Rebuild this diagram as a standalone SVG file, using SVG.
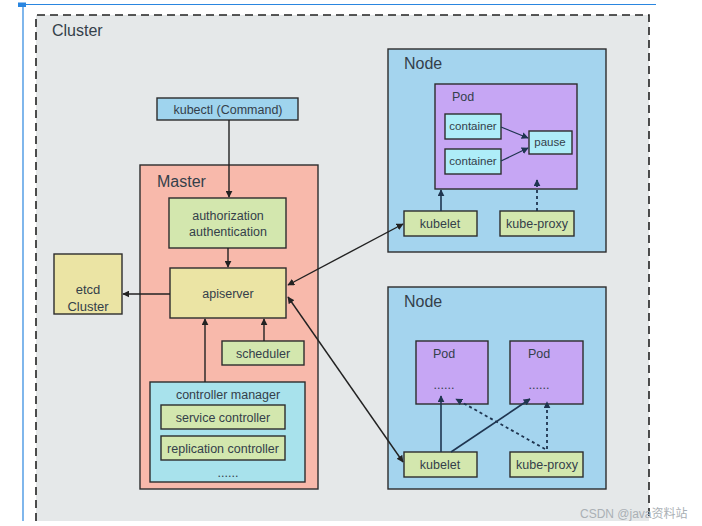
<svg xmlns="http://www.w3.org/2000/svg" width="702" height="526" viewBox="0 0 702 526">
<defs>
<style>
text{font-family:"Liberation Sans",Arial,sans-serif;fill:#34404a}
.t{font-size:12.5px;text-anchor:middle}
.s{font-size:11.5px;text-anchor:middle}
.h{font-size:16px}
.box{stroke:#2d2d2d;stroke-width:1.4}
.ln{stroke:#222;stroke-width:1.4;fill:none}
.dl{stroke:#1f3550;stroke-width:1.8;fill:none;stroke-dasharray:3 3}
</style>
<marker id="ah" viewBox="0 0 10 10" refX="9" refY="5" markerWidth="7" markerHeight="7" orient="auto-start-reverse" markerUnits="userSpaceOnUse">
<path d="M0,0 L10,5 L0,10 z" fill="#222"/>
</marker>
<marker id="ahb" viewBox="0 0 10 10" refX="9" refY="5" markerWidth="7" markerHeight="7" orient="auto-start-reverse" markerUnits="userSpaceOnUse">
<path d="M0,0 L10,5 L0,10 z" fill="#1f3550"/>
</marker>
</defs>
<rect width="702" height="526" fill="#fff"/>
<g id="frame">
<line x1="22" y1="4.5" x2="656" y2="4.5" stroke="#2a86e0" stroke-width="1.2"/>
<line x1="23" y1="4" x2="23" y2="521" stroke="#2a86e0" stroke-width="1.2"/>
<rect x="18" y="2.5" width="8" height="4.5" fill="#2a86e0"/>
</g>
<g id="cluster">
<rect x="36" y="15" width="613" height="506" fill="#e5e8e9"/>
<path d="M36,521 V15 H649 V521" fill="none" stroke="#222" stroke-width="1.6" stroke-dasharray="8 5"/>
<text class="h" x="52" y="36">Cluster</text>
</g>
<g id="kubectl">
<rect class="box" x="157" y="98" width="141" height="22" fill="#9fd4ee"/>
<text class="t" x="228" y="114">kubectl (Command)</text>
</g>
<g id="master">
<rect class="box" x="140" y="165" width="178" height="324" fill="#f8b9ab"/>
<text class="h" x="157" y="187">Master</text>
</g>
<g id="auth">
<rect class="box" x="169" y="198" width="117" height="50" fill="#d3e7ae"/>
<text class="t" x="228" y="220">authorization</text>
<text class="t" x="228" y="236">authentication</text>
</g>
<g id="apiserver">
<rect class="box" x="170" y="268" width="116" height="50" fill="#ebe4a4"/>
<text class="t" x="228" y="298">apiserver</text>
</g>
<g id="scheduler">
<rect class="box" x="222" y="341" width="82" height="24" fill="#d3e7ae"/>
<text class="t" x="263" y="358">scheduler</text>
</g>
<g id="controller-manager">
<rect class="box" x="150" y="382" width="155" height="100" fill="#a8e2ec"/>
<text class="t" x="228" y="399">controller manager</text>
<rect class="box" x="161" y="405" width="124" height="24" fill="#d3e7ae"/>
<text class="t" x="223" y="422">service controller</text>
<rect class="box" x="161" y="436" width="124" height="24" fill="#d3e7ae"/>
<text class="t" x="223" y="453">replication controller</text>
<text class="t" x="228" y="477">......</text>
</g>
<g id="etcd">
<rect class="box" x="54" y="254" width="68" height="60" fill="#ebe4a4"/>
<text class="t" x="88" y="294" style="font-size:13px">etcd</text>
<text class="t" x="88" y="311" style="font-size:13px">Cluster</text>
</g>
<g id="node1">
<rect class="box" x="388" y="49" width="218" height="203" fill="#a4d4ee"/>
<text class="h" x="404" y="69">Node</text>
<rect class="box" x="435" y="84" width="142" height="105" fill="#c6a6f4"/>
<text x="452" y="101" style="font-size:12.5px">Pod</text>
<rect class="box" x="445" y="114" width="56" height="25" fill="#aeedf8"/>
<text class="s" x="473" y="130">container</text>
<rect class="box" x="445" y="149" width="56" height="25" fill="#aeedf8"/>
<text class="s" x="473" y="165">container</text>
<rect class="box" x="529" y="131" width="43" height="23" fill="#aeedf8"/>
<text class="s" x="550" y="146">pause</text>
<rect class="box" x="404" y="211" width="73" height="25" fill="#d3e7ae"/>
<text class="t" x="440" y="228">kubelet</text>
<rect class="box" x="500" y="211" width="74" height="25" fill="#d3e7ae"/>
<text class="t" x="537" y="228">kube-proxy</text>
</g>
<g id="node2">
<rect class="box" x="388" y="287" width="218" height="202" fill="#a4d4ee"/>
<text class="h" x="404" y="307">Node</text>
<rect class="box" x="416" y="341" width="72" height="63" fill="#c6a6f4"/>
<text class="t" x="444" y="358">Pod</text>
<text class="t" x="444" y="389">......</text>
<rect class="box" x="510" y="341" width="73" height="63" fill="#c6a6f4"/>
<text class="t" x="539" y="358">Pod</text>
<text class="t" x="539" y="389">......</text>
<rect class="box" x="404" y="452" width="73" height="25" fill="#d3e7ae"/>
<text class="t" x="440" y="469">kubelet</text>
<rect class="box" x="510" y="452" width="73" height="25" fill="#d3e7ae"/>
<text class="t" x="547" y="469">kube-proxy</text>
</g>
<g id="connectors">
<line class="ln" x1="229" y1="120" x2="229" y2="197" marker-end="url(#ah)"/>
<line class="ln" x1="228" y1="248" x2="228" y2="267" marker-end="url(#ah)"/>
<line class="ln" x1="170" y1="294" x2="123" y2="294" marker-end="url(#ah)"/>
<line class="ln" x1="264" y1="341" x2="264" y2="319" marker-end="url(#ah)"/>
<line class="ln" x1="205" y1="382" x2="205" y2="319" marker-end="url(#ah)"/>
<line class="ln" x1="288" y1="285" x2="403" y2="224" marker-start="url(#ah)" marker-end="url(#ah)"/>
<line class="ln" x1="288" y1="297" x2="403" y2="462" marker-start="url(#ah)" marker-end="url(#ah)"/>
<line x1="501" y1="127" x2="528" y2="138" stroke="#1f3550" stroke-width="1.3" marker-end="url(#ahb)"/>
<line x1="501" y1="161" x2="528" y2="148" stroke="#1f3550" stroke-width="1.3" marker-end="url(#ahb)"/>
<line x1="441" y1="211" x2="441" y2="190" stroke="#1f3550" stroke-width="1.6" marker-end="url(#ahb)"/>
<line class="dl" x1="537" y1="211" x2="537" y2="180" marker-end="url(#ahb)"/>
<line x1="441" y1="452" x2="441" y2="396" stroke="#1f3550" stroke-width="1.6" marker-end="url(#ahb)"/>
<line x1="451" y1="452" x2="530" y2="399" stroke="#1f3550" stroke-width="1.6" marker-end="url(#ahb)"/>
<line class="dl" x1="545" y1="449" x2="456" y2="399" marker-end="url(#ahb)"/>
<line class="dl" x1="547" y1="449" x2="547" y2="402" marker-end="url(#ahb)"/>
</g>
<text x="580" y="518" style="font-size:12px;fill:#aab0b5;font-family:'Liberation Sans','Noto Sans CJK SC',sans-serif">CSDN @java资料站</text>
</svg>
